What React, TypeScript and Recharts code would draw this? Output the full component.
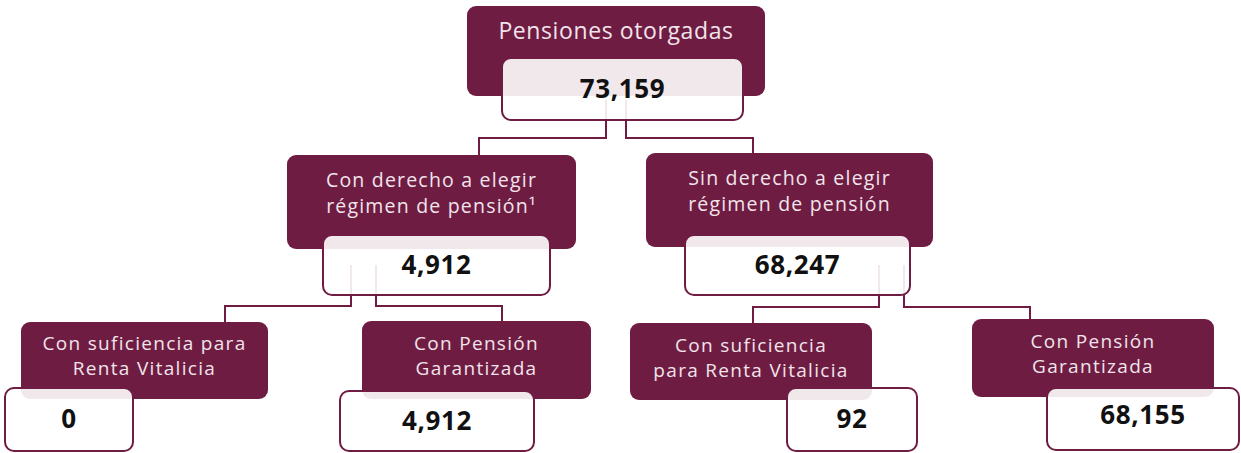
import React from 'react';
import { ScatterChart, Scatter, XAxis, YAxis } from 'recharts';

const W = 1241;
const H = 453;
const MAROON = '#6F1C43';
const LABEL_COLOR = '#F1E4EA';
const FONT = '"Open Sans", "DejaVu Sans", sans-serif';

// ---- data ----
const nodeIds = ['total', 'conDerecho', 'sinDerecho', 'cdRenta', 'cdGarantizada', 'sdRenta', 'sdGarantizada'];
const nodeParents = [null, 'total', 'total', 'conDerecho', 'conDerecho', 'sinDerecho', 'sinDerecho'];
const nodeLabels = [
  ['Pensiones otorgadas'],
  ['Con derecho a elegir', 'régimen de pensión¹'],
  ['Sin derecho a elegir', 'régimen de pensión'],
  ['Con suficiencia para', 'Renta Vitalicia'],
  ['Con Pensión', 'Garantizada'],
  ['Con suficiencia', 'para Renta Vitalicia'],
  ['Con Pensión', 'Garantizada'],
];
const nodeValues = [73159, 4912, 68247, 0, 4912, 92, 68155];

// ---- layout (positions / sizes, layout units = chart units) ----
type Layout = {
  x: number; y: number; w: number; h: number; // dark title box
  wx: number; wy: number; ww: number; wh: number; // value box
  ly: number[]; // label line centres
  vy: number; // value centre
  fs: number; // label font size
  ls: number; // label letter spacing
  ports?: number[]; // outgoing connector x positions
  portY?: number; // where outgoing connectors start
  busY?: number; // y of the horizontal run
  dropX: number; // x of incoming connector
};
const nodeLayout: Layout[] = [
  { x: 467, y: 6, w: 298, h: 90, wx: 502, wy: 58, ww: 241, wh: 62, ly: [30], vy: 88, fs: 23, ls: 0.6, ports: [606, 626], portY: 100, busY: 138, dropX: 616 },
  { x: 287, y: 155, w: 289, h: 94, wx: 323, wy: 235, ww: 227, wh: 60, ly: [179, 205], vy: 264, fs: 19.5, ls: 1.2, ports: [351, 376], portY: 265, busY: 306, dropX: 479 },
  { x: 646, y: 153, w: 287, h: 94, wx: 685, wy: 235, ww: 225, wh: 60, ly: [177, 203], vy: 264, fs: 19.5, ls: 1.2, ports: [879, 904], portY: 265, busY: 307, dropX: 753 },
  { x: 21, y: 322, w: 247, h: 77, wx: 5, wy: 388, ww: 128, wh: 63, ly: [343, 368], vy: 418, fs: 19, ls: 1.3, dropX: 225 },
  { x: 362, y: 321, w: 229, h: 78, wx: 340, wy: 391, ww: 194, wh: 60, ly: [343, 368], vy: 420, fs: 19, ls: 1.3, dropX: 502 },
  { x: 630, y: 323, w: 242, h: 77, wx: 787, wy: 388, ww: 130, wh: 63, ly: [345, 370], vy: 418, fs: 19, ls: 1.3, dropX: 753 },
  { x: 972, y: 319, w: 242, h: 78, wx: 1047, wy: 388, ww: 192, wh: 62, ly: [341, 366], vy: 414, fs: 19, ls: 1.3, dropX: 1030 },
];

const nodes = nodeIds.map((id, i) => ({
  id,
  x: nodeLayout[i].x,
  y: nodeLayout[i].y,
  labels: nodeLabels[i],
  value: nodeValues[i],
  layout: nodeLayout[i],
}));

const connectors = nodeIds
  .map((id, i) => {
    const parentId = nodeParents[i];
    if (!parentId) return null;
    const p = nodeIds.indexOf(parentId);
    const siblings = nodeIds.filter((_, j) => nodeParents[j] === parentId);
    const k = siblings.indexOf(id);
    const pl = nodeLayout[p];
    const cl = nodeLayout[i];
    const px = pl.ports![k];
    return [
      { x: px, y: pl.portY! },
      { x: px, y: pl.busY! },
      { x: cl.dropX, y: pl.busY! },
      { x: cl.dropX, y: cl.y + 2 },
    ];
  })
  .filter(Boolean) as { x: number; y: number }[][];

const NoMarker = () => <g />;

const NodeShape = (props: any) => {
  const { cx, cy, payload } = props;
  const L: Layout = payload.layout;
  const ox = cx - L.x;
  const oy = cy - L.y;
  const labelCx = cx + L.w / 2;
  const wx = L.wx + ox;
  const wy = L.wy + oy;
  return (
    <g>
      <rect x={cx} y={cy} width={L.w} height={L.h} rx={9} ry={9} fill={MAROON} />
      {payload.labels.map((t: string, i: number) => (
        <text
          key={i}
          x={labelCx}
          y={L.ly[i] + oy}
          textAnchor="middle"
          dominantBaseline="central"
          fontFamily={FONT}
          fontSize={L.fs}
          letterSpacing={L.ls}
          fill={LABEL_COLOR}
        >
          {t}
        </text>
      ))}
      <rect
        x={wx}
        y={wy}
        width={L.ww}
        height={L.wh}
        rx={9}
        ry={9}
        fill="rgba(255,255,255,0.9)"
        stroke={MAROON}
        strokeWidth={2}
      />
      <text
        x={wx + L.ww / 2}
        y={L.vy + oy}
        textAnchor="middle"
        dominantBaseline="central"
        fontFamily={FONT}
        fontSize={26}
        fontWeight={700}
        letterSpacing={0.6}
        fill="#111111"
      >
        {payload.value.toLocaleString('en-US')}
      </text>
    </g>
  );
};

export default function App() {
  return (
    <div style={{ position: 'absolute', left: 0, top: 0, width: W, height: H, background: '#ffffff' }}>
      <ScatterChart width={W} height={H} margin={{ top: 0, right: 0, bottom: 0, left: 0 }}>
        <XAxis type="number" dataKey="x" domain={[0, W]} hide allowDataOverflow />
        <YAxis type="number" dataKey="y" domain={[0, H]} reversed hide allowDataOverflow />
        {connectors.map((c, i) => (
          <Scatter
            key={`c${i}`}
            data={c}
            fill={MAROON}
            line={{ stroke: MAROON, strokeWidth: 2 }}
            lineType="joint"
            shape={NoMarker}
            isAnimationActive={false}
          />
        ))}
        <Scatter data={nodes} shape={NodeShape} isAnimationActive={false} />
      </ScatterChart>
    </div>
  );
}
